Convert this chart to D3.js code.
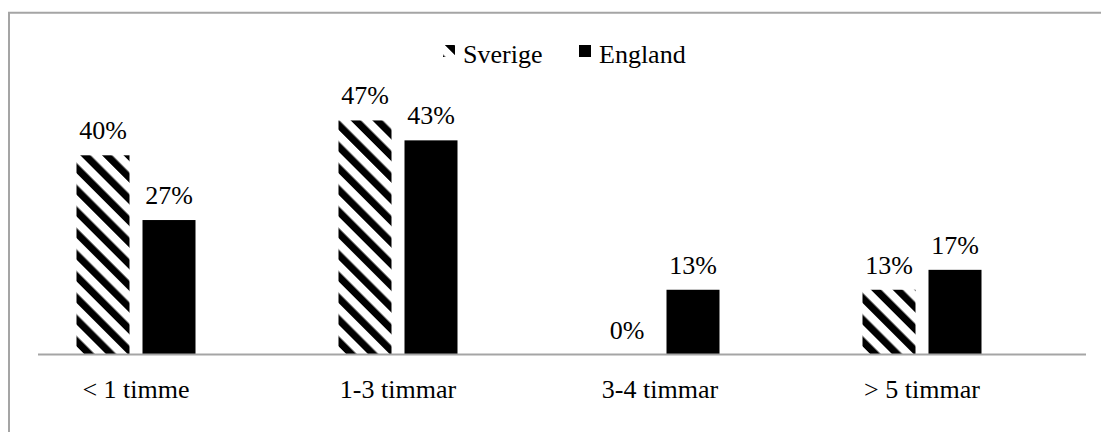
<!DOCTYPE html>
<html>
<head>
<meta charset="utf-8">
<script src="https://cdn.jsdelivr.net/npm/d3@7"></script>
<style>
  html, body { margin: 0; padding: 0; background: #fff; }
  svg { display: block; }
  text { font-family: "Liberation Serif", "Times New Roman", serif; fill: #000; }
</style>
</head>
<body>
<svg id="chart" width="1101" height="432"></svg>
<script>
// Time spent per day, share of respondents
const categories = ["< 1 timme", "1-3 timmar", "3-4 timmar", "> 5 timmar"];
const seriesNames = ["Sverige", "England"];
const sverige = [40, 47, 0, 13];
const england = [27, 43, 13, 17];
const valueLabels = {
  Sverige: ["40%", "47%", "0%", "13%"],
  England: ["27%", "43%", "13%", "17%"]
};

const W = 1101, H = 432;
const svg = d3.select("#chart");
const fontSize = 26;
const grey = "#a5a5a5";

// diagonal hatch for the first series
const defs = svg.append("defs");
defs.append("pattern")
  .attr("id", "hatch")
  .attr("patternUnits", "userSpaceOnUse")
  .attr("width", 15.3).attr("height", 15.3)
  .attr("patternTransform", "rotate(-45)")
  .append("rect")
  .attr("x", 0).attr("y", 0)
  .attr("width", 7.2).attr("height", 15.3)
  .attr("fill", "#000");

const fills = { Sverige: "url(#hatch)", England: "#000" };

// chart frame
svg.append("rect")
  .attr("x", 9).attr("y", 12.75)
  .attr("width", 1100).attr("height", 430)
  .attr("fill", "none")
  .attr("stroke", grey)
  .attr("stroke-width", 2);

// scales
const x0 = d3.scaleBand()
  .domain(categories)
  .range([5, 1053])
  .paddingInner(143 / 262)
  .paddingOuter(143 / 524);

const x1 = d3.scaleBand()
  .domain(seriesNames)
  .range([0, x0.bandwidth()])
  .paddingInner(13 / 66)
  .paddingOuter(0);

const y = d3.scaleLinear().domain([0, 50]).range([354.5, 105.5]);

const rows = categories.map((c, i) => ({
  category: c,
  values: [
    { key: "Sverige", value: sverige[i], label: valueLabels.Sverige[i] },
    { key: "England", value: england[i], label: valueLabels.England[i] }
  ]
}));

const groups = svg.append("g").selectAll("g")
  .data(rows)
  .join("g")
  .attr("transform", d => `translate(${x0(d.category)},0)`);

groups.selectAll("rect")
  .data(d => d.values)
  .join("rect")
  .attr("x", d => x1(d.key))
  .attr("y", d => y(d.value))
  .attr("width", x1.bandwidth())
  .attr("height", d => y(0) - y(d.value))
  .attr("fill", d => fills[d.key]);

groups.selectAll("text.val")
  .data(d => d.values)
  .join("text")
  .attr("class", "val")
  .attr("x", d => x1(d.key) + x1.bandwidth() / 2)
  .attr("y", d => y(d.value) - 16)
  .attr("text-anchor", "middle")
  .style("font-size", fontSize + "px")
  .text(d => d.label);

// category axis line
const axisLeft = 38, axisRight = 1086;
svg.append("line")
  .attr("x1", axisLeft).attr("x2", axisRight)
  .attr("y1", y(0)).attr("y2", y(0))
  .attr("stroke", grey)
  .attr("stroke-width", 2);

// category labels
svg.append("g").selectAll("text")
  .data(categories)
  .join("text")
  .attr("x", d => x0(d) + x0.bandwidth() / 2)
  .attr("y", 398)
  .attr("text-anchor", "middle")
  .style("font-size", fontSize + "px")
  .text(d => d);

// legend
const legendItems = [
  { key: "Sverige", x: 443 },
  { key: "England", x: 579 }
];
const legend = svg.append("g").selectAll("g")
  .data(legendItems)
  .join("g")
  .attr("transform", d => `translate(${d.x},0)`);
legend.append("rect")
  .attr("x", 0).attr("y", 45)
  .attr("width", 12).attr("height", 12)
  .attr("fill", d => fills[d.key]);
legend.append("text")
  .attr("x", 20).attr("y", 63)
  .style("font-size", fontSize + "px")
  .text(d => d.key);
</script>
</body>
</html>
